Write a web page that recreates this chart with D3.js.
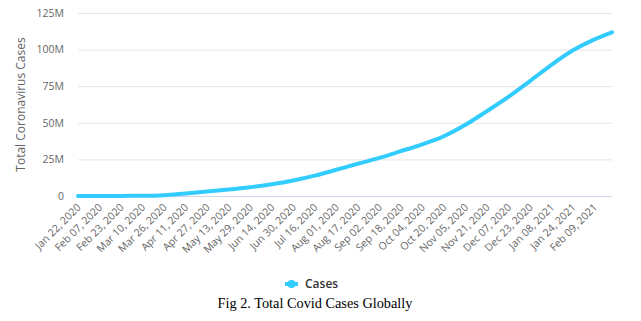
<!DOCTYPE html>
<html>
<head>
<meta charset="utf-8">
<script src="https://cdn.jsdelivr.net/npm/d3@7"></script>
<style>
  body { margin: 0; background: #fff; }
  svg text { font-family: "Open Sans", sans-serif; }
</style>
</head>
<body>
<div id="chart"></div>
<script>
var w = 641, h = 321;
var margin = {left: 78, right: 29, top: 13, bottom: 125};

// data (total cases, millions)
var dates = ["2020-01-22", "2020-02-07", "2020-02-23", "2020-03-10", "2020-03-26",
    "2020-04-11", "2020-04-27", "2020-05-13", "2020-05-29", "2020-06-14",
    "2020-06-30", "2020-07-16", "2020-08-01", "2020-08-17", "2020-09-02",
    "2020-09-18", "2020-10-04", "2020-10-20", "2020-11-05", "2020-11-21",
    "2020-12-07", "2020-12-23", "2021-01-08", "2021-01-24", "2021-02-09",
    "2021-02-22"];
var cases = [0.0006, 0.034, 0.079, 0.12, 0.53,
    1.78, 3.06, 4.4, 6.0, 8.0,
    10.6, 13.9, 17.9, 22.0, 26.0,
    30.6, 35.3, 40.8, 48.6, 58.0,
    67.7, 78.5, 89.6, 99.5, 107.0,
    111.8];
var tickLabels = ["Jan 22, 2020", "Feb 07, 2020", "Feb 23, 2020", "Mar 10, 2020",
    "Mar 26, 2020", "Apr 11, 2020", "Apr 27, 2020", "May 13, 2020", "May 29, 2020",
    "Jun 14, 2020", "Jun 30, 2020", "Jul 16, 2020", "Aug 01, 2020", "Aug 17, 2020",
    "Sep 02, 2020", "Sep 18, 2020", "Oct 04, 2020", "Oct 20, 2020", "Nov 05, 2020",
    "Nov 21, 2020", "Dec 07, 2020", "Dec 23, 2020", "Jan 08, 2021", "Jan 24, 2021",
    "Feb 09, 2021"];
var yTicks = [0, 25, 50, 75, 100, 125];

var parseDate = d3.timeParse("%Y-%m-%d");
var parseTick = d3.timeParse("%b %d, %Y");
var data = dates.map(function(d, i) {
    return {date: parseDate(d), value: cases[i]};
});

var svg = d3.select("#chart").append("svg")
    .attr("width", w)
    .attr("height", h);

var x = d3.scaleTime()
    .domain(d3.extent(data, function(d) { return d.date; }))
    .range([margin.left, w - margin.right]);
var y = d3.scaleLinear()
    .domain([0, 125])
    .range([h - margin.bottom, margin.top]);

// grid lines
svg.append("g")
    .selectAll("line")
    .data(yTicks.filter(function(d) { return d > 0; }))
    .enter()
    .append("line")
    .attr("x1", margin.left)
    .attr("x2", w - margin.right)
    .attr("y1", function(d) { return y(d) + 0.5; })
    .attr("y2", function(d) { return y(d) + 0.5; })
    .attr("stroke", "#e6e6e6")
    .attr("stroke-width", 1);

// x axis line
svg.append("line")
    .attr("x1", margin.left)
    .attr("x2", w - margin.right)
    .attr("y1", y(0) + 0.5)
    .attr("y2", y(0) + 0.5)
    .attr("stroke", "#ccd6eb")
    .attr("stroke-width", 1);

// y labels
var yAxis = d3.axisLeft(y)
    .tickValues(yTicks)
    .tickSize(0)
    .tickPadding(14)
    .tickFormat(function(d) { return d === 0 ? "0" : d + "M"; });
var gy = svg.append("g")
    .attr("transform", "translate(" + margin.left + ",0)")
    .call(yAxis);
gy.select(".domain").remove();
gy.selectAll("text")
    .attr("fill", "#666")
    .style("font-size", "10.5px");

// x labels
var xAxis = d3.axisBottom(x)
    .tickValues(tickLabels.map(parseTick))
    .tickSize(0)
    .tickFormat(d3.timeFormat("%b %d, %Y"));
var gx = svg.append("g")
    .attr("transform", "translate(0," + y(0) + ")")
    .call(xAxis);
gx.select(".domain").remove();
gx.selectAll("text")
    .attr("fill", "#666")
    .style("font-size", "10.5px")
    .attr("text-anchor", "end")
    .attr("dy", null)
    .attr("y", 0)
    .attr("transform", "translate(3,12) rotate(-45)");

// y title
svg.append("text")
    .attr("transform", "translate(25," + ((margin.top + h - margin.bottom) / 2) + ") rotate(-90)")
    .attr("text-anchor", "middle")
    .attr("fill", "#666")
    .style("font-size", "12px")
    .text("Total Coronavirus Cases");

// line
var line = d3.line()
    .x(function(d) { return x(d.date); })
    .y(function(d) { return y(d.value); })
    .curve(d3.curveMonotoneX);
svg.append("path")
    .datum(data)
    .attr("d", line)
    .attr("fill", "none")
    .attr("stroke", "#33ccff")
    .attr("stroke-width", 4)
    .attr("stroke-linejoin", "round")
    .attr("stroke-linecap", "round");

// legend
var legend = svg.append("g").attr("transform", "translate(285,284)");
legend.append("line")
    .attr("x1", 0).attr("x2", 13)
    .attr("stroke", "#33ccff")
    .attr("stroke-width", 4);
legend.append("circle")
    .attr("cx", 6.5).attr("r", 4)
    .attr("fill", "#33ccff");
legend.append("text")
    .attr("x", 20)
    .attr("y", 4)
    .attr("fill", "#333")
    .style("font-size", "12px")
    .style("font-weight", "600")
    .text("Cases");

// caption
svg.append("text")
    .attr("x", 315)
    .attr("y", 308)
    .attr("text-anchor", "middle")
    .attr("fill", "#000")
    .style("font-family", "'Liberation Serif', 'Times New Roman', serif")
    .style("font-size", "14.3px")
    .text("Fig 2. Total Covid Cases Globally");
</script>
</body>
</html>
